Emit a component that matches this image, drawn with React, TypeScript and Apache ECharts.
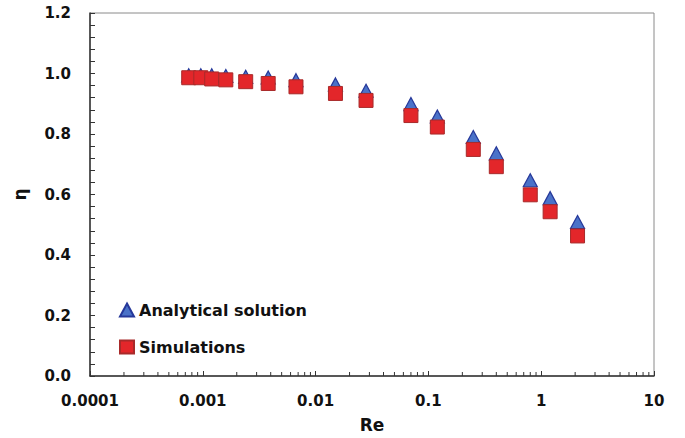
import React, { useEffect, useRef } from "react";
import * as echarts from "echarts";

const reValues = [0.00075, 0.00096, 0.0012, 0.0016, 0.0024, 0.0038, 0.0067, 0.015, 0.028, 0.07, 0.12, 0.25, 0.4, 0.8, 1.2, 2.1];
const analytical = [0.994, 0.994, 0.994, 0.992, 0.989, 0.987, 0.978, 0.964, 0.943, 0.899, 0.858, 0.79, 0.736, 0.647, 0.588, 0.509];
const simulations = [0.986, 0.986, 0.982, 0.979, 0.973, 0.967, 0.956, 0.934, 0.911, 0.861, 0.823, 0.749, 0.692, 0.599, 0.543, 0.463];
const xTickLabels = ["0.0001", "0.001", "0.01", "0.1", "1", "10"];
const decades = [0.0001, 0.001, 0.01, 0.1, 1];
const minorMultipliers = [2, 3, 4, 5, 6, 7, 8, 9];

const minorTickValues: number[] = [];
decades.forEach((d) => minorMultipliers.forEach((m) => minorTickValues.push(d * m)));

const FONT = "'DejaVu Sans', sans-serif";

export default function App() {
  const ref = useRef<HTMLDivElement>(null);
  useEffect(() => {
    if (!ref.current) return;
    const chart = echarts.init(ref.current, null, { renderer: "svg" });
    chart.setOption({
      animation: false,
      backgroundColor: "#ffffff",
      grid: {
        left: 90,
        right: 31,
        top: 13,
        bottom: 59,
        show: true,
        borderColor: "#8a8a8a",
        borderWidth: 1,
      },
      legend: {
        orient: "vertical",
        left: 114,
        top: 297,
        itemWidth: 14,
        itemHeight: 13,
        itemGap: 21,
        textStyle: { fontFamily: FONT, fontWeight: "bold", fontSize: 16, color: "#111" },
        data: [
          { name: "Analytical solution", icon: "triangle" },
          { name: "Simulations", icon: "rect" },
        ],
      },
      xAxis: {
        type: "log",
        logBase: 10,
        min: 0.0001,
        max: 10,
        name: "Re",
        nameLocation: "middle",
        nameGap: 40,
        nameTextStyle: { fontFamily: FONT, fontWeight: "bold", fontSize: 17, color: "#111" },
        axisLine: { lineStyle: { color: "#333", width: 1.5 } },
        axisTick: { inside: true, length: 5, lineStyle: { color: "#333" } },
        minorTick: { show: false },
        splitLine: { show: false },
        axisLabel: {
          margin: 17,
          fontFamily: FONT,
          fontWeight: "bold",
          fontSize: 15,
          color: "#111",
          formatter: (v: number) => xTickLabels[Math.round(Math.log10(v)) + 4] ?? String(v),
        },
      },
      yAxis: {
        type: "value",
        min: 0,
        max: 1.2,
        interval: 0.2,
        name: "η",
        nameLocation: "middle",
        nameGap: 62,
        nameRotate: 90,
        nameTextStyle: { fontFamily: FONT, fontWeight: "bold", fontSize: 17, color: "#111" },
        axisLine: { show: true, lineStyle: { color: "#333", width: 1.5 } },
        axisTick: { show: true, inside: true, length: 5, lineStyle: { color: "#333" } },
        minorTick: { show: true, splitNumber: 5, length: 5, lineStyle: { color: "#333" } },
        splitLine: { show: false },
        axisLabel: {
          margin: 19,
          fontFamily: FONT,
          fontWeight: "bold",
          fontSize: 15,
          color: "#111",
          formatter: (v: number) => v.toFixed(1),
        },
      },
      series: [
        {
          name: "minorTicks",
          type: "custom",
          silent: true,
          data: minorTickValues.map((v) => [v, 0]),
          renderItem: (_params: any, api: any) => {
            const p = api.coord([api.value(0), 0]);
            return {
              type: "line",
              shape: { x1: p[0], y1: p[1], x2: p[0], y2: p[1] - 4 },
              style: { stroke: "#333", lineWidth: 1 },
            };
          },
          z: 1,
        },
        {
          name: "Analytical solution",
          type: "scatter",
          symbol: "triangle",
          symbolSize: [14, 13],
          data: reValues.map((x, i) => [x, analytical[i]]),
          itemStyle: { color: "#4a72c8", borderColor: "#26389a", borderWidth: 1.2, opacity: 1 },
          z: 3,
        },
        {
          name: "Simulations",
          type: "scatter",
          symbol: "rect",
          symbolSize: 14,
          data: reValues.map((x, i) => [x, simulations[i]]),
          itemStyle: { color: "#e3262a", borderColor: "#a82a2a", borderWidth: 1, opacity: 1 },
          z: 4,
        },
      ],
    });
    return () => chart.dispose();
  }, []);
  return <div ref={ref} style={{ width: 685, height: 438, position: "absolute", left: 0, top: 0 }} />;
}
